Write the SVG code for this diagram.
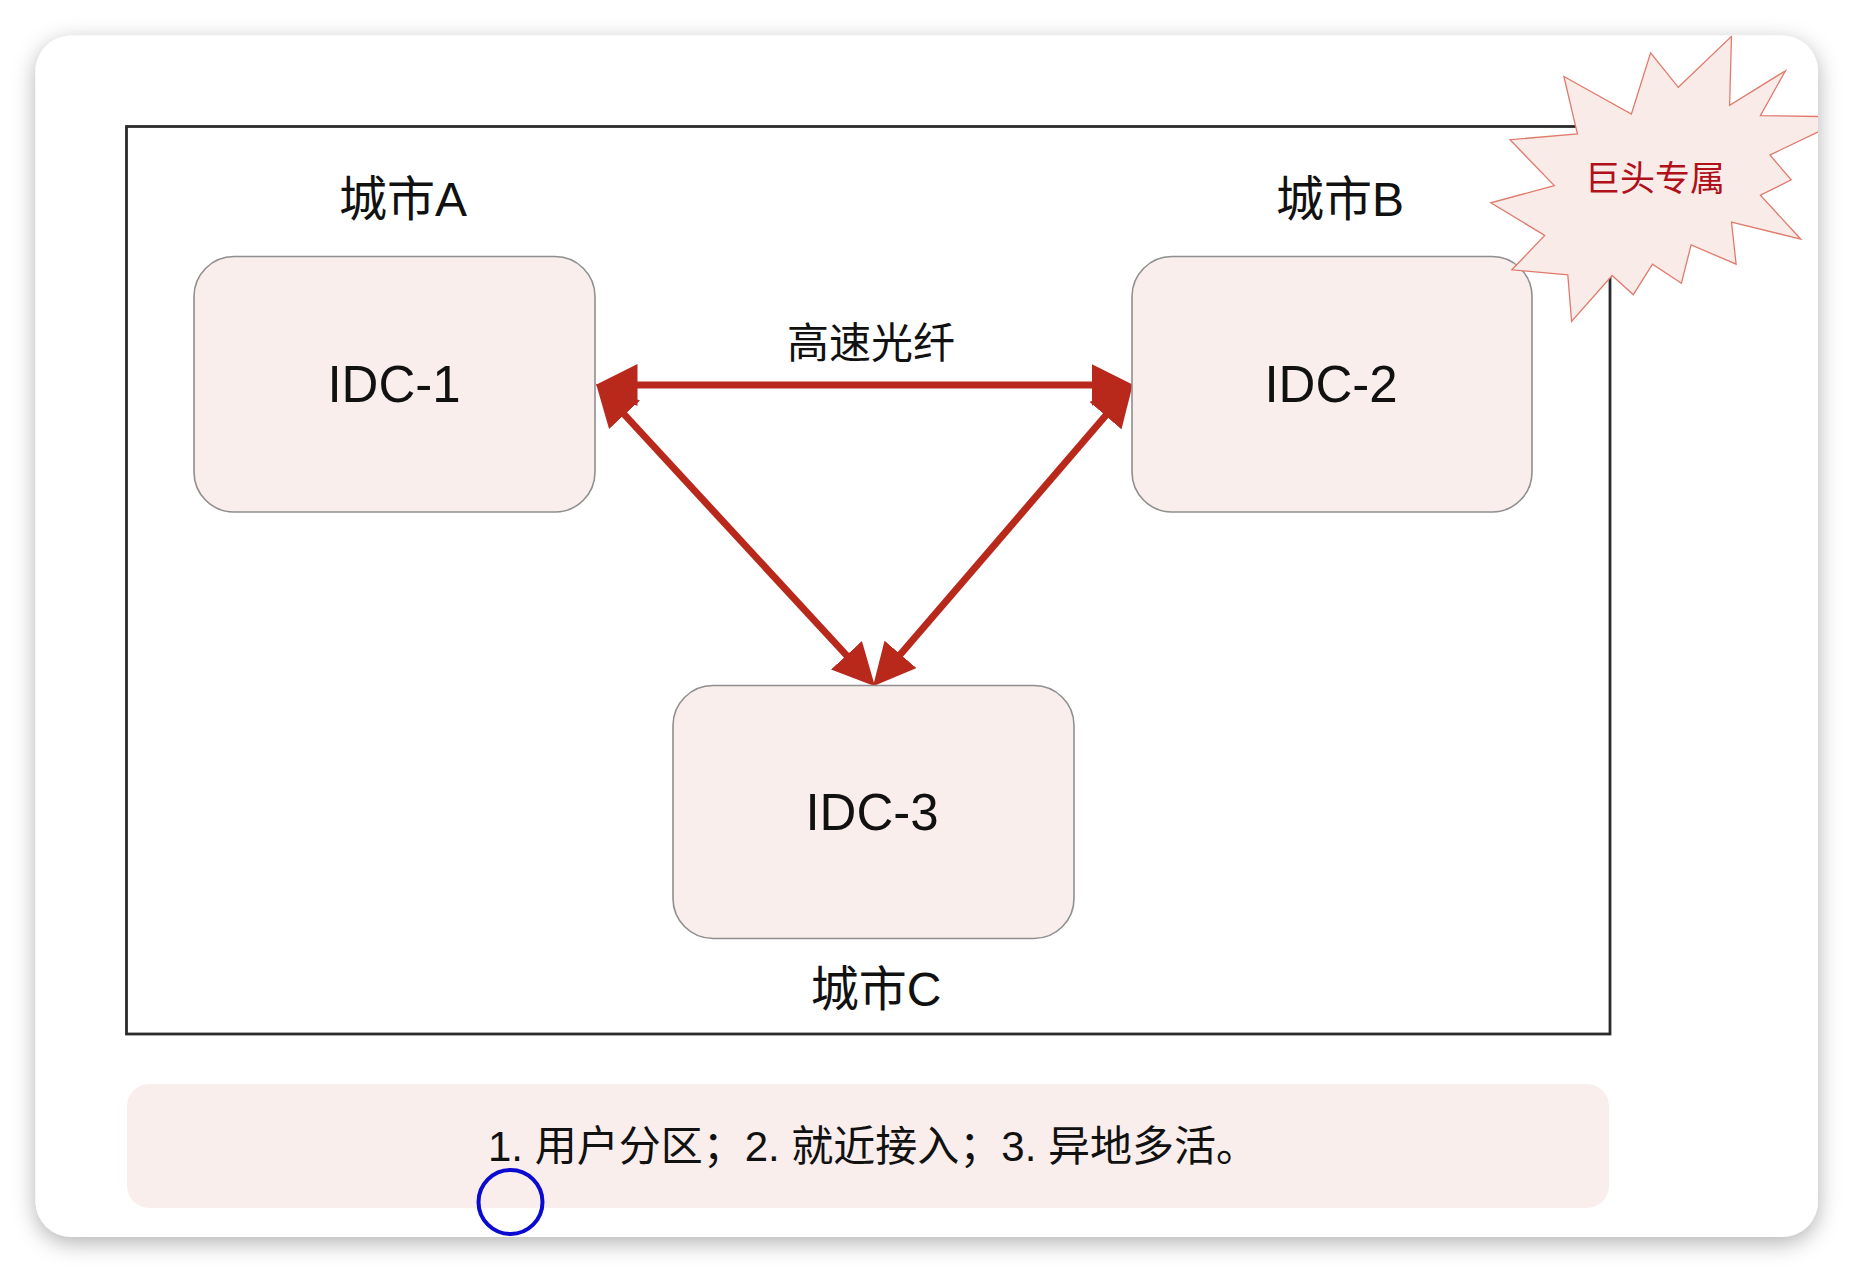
<svg xmlns="http://www.w3.org/2000/svg" width="1854" height="1274" viewBox="0 0 1854 1274">
  <style>
    .box { fill: #f9eeeb; stroke: #8f8f8f; stroke-width: 1.6; }
    .idc { font-family: "Liberation Sans", "Noto Sans CJK SC", sans-serif; font-size: 51px; fill: #111; text-anchor: middle; }
    .city { font-family: "Liberation Sans", "Noto Sans CJK SC", sans-serif; font-size: 48px; fill: #111; text-anchor: middle; }
    .link { stroke: #b8291c; stroke-width: 7; fill: none; marker-start: url(#ah); marker-end: url(#ah); }
    .lbl { font-family: "Noto Sans CJK SC", sans-serif; font-size: 42px; fill: #111; text-anchor: middle; }
    .note { font-family: "Liberation Sans", "Noto Sans CJK SC", sans-serif; font-size: 42px; fill: #111; text-anchor: middle; }
    .badge { font-family: "Noto Sans CJK SC", sans-serif; font-size: 35px; fill: #b0101a; text-anchor: middle; }
  </style>
  <defs>
    <filter id="shadow" x="-5%" y="-5%" width="110%" height="112%">
      <feDropShadow dx="0" dy="6" stdDeviation="11" flood-color="#000" flood-opacity="0.3"/>
    </filter>
    <clipPath id="cardClip">
      <rect x="35.5" y="35.5" width="1782.5" height="1201.5" rx="36"/>
    </clipPath>
    <marker id="ah" markerUnits="userSpaceOnUse" markerWidth="42" markerHeight="42" viewBox="0 0 40 40" refX="10" refY="20" orient="auto-start-reverse">
      <path d="M0,0 L40,20 L0,40 z" fill="#b8291c"/>
    </marker>
  </defs>

  <rect width="1854" height="1274" fill="#ffffff"/>

  <!-- card -->
  <rect id="card" x="35.5" y="35.5" width="1782.5" height="1201.5" rx="36" fill="#ffffff" filter="url(#shadow)"/>

  <!-- frame -->
  <rect id="frame" x="126.5" y="126.5" width="1483.5" height="907.5" fill="none" stroke="#2b2b2b" stroke-width="2.8"/>

  <!-- connectors -->
  <g id="connectors">
    <line class="link" x1="627" y1="385" x2="1102" y2="385"/>
    <line class="link" x1="617.4" y1="407" x2="853.6" y2="663"/>
    <line class="link" x1="1112.4" y1="407.7" x2="893.6" y2="662.3"/>
    <text class="lbl" x="871" y="358">高速光纤</text>
  </g>

  <g id="idc1">
    <rect class="box" x="194" y="256.5" width="401" height="255.5" rx="40"/>
    <text class="idc" x="394" y="402">IDC-1</text>
    <text class="city" x="403" y="216">城市A</text>
  </g>

  <g id="idc2">
    <rect class="box" x="1132" y="256.5" width="400" height="255.5" rx="40"/>
    <text class="idc" x="1331" y="402">IDC-2</text>
    <text class="city" x="1340" y="216">城市B</text>
  </g>

  <g id="idc3">
    <rect class="box" x="673" y="685.5" width="401" height="253" rx="40"/>
    <text class="idc" x="872" y="830">IDC-3</text>
    <text class="city" x="876" y="1006">城市C</text>
  </g>

  <g id="badge" clip-path="url(#cardClip)">
    <polygon points="1563.9,76.5 1631.4,114 1650.6,52.8 1678.3,87.3 1731.5,36.4 1729.6,105.2 1785.4,70.8 1760.4,115.6 1849,117 1770,155 1791.2,179.9 1760.4,195.2 1800.8,239.2 1731.5,222 1736.1,264.1 1691.1,244.9 1681.4,283.2 1652.5,264.1 1633.3,294.7 1612.1,275.5 1571.6,321.5 1567.8,274.8 1511.9,269.8 1544.7,235.4 1490.8,202.8 1554.3,185.6 1510,139.7 1577.4,133.9" fill="#f9ebe8" stroke="#e07a6c" stroke-width="1.3" stroke-linejoin="miter"/>
    <text class="badge" x="1655" y="191">巨头专属</text>
  </g>

  <g id="summary">
    <rect x="127" y="1084" width="1482" height="124" rx="22" fill="#f9eeec"/>
    <text class="note" x="873" y="1161">1. 用户分区；2. 就近接入；3. 异地多活。</text>
  </g>

  <circle id="cursor" cx="510.5" cy="1202" r="32" fill="none" stroke="#0a0ad0" stroke-width="4"/>
</svg>
